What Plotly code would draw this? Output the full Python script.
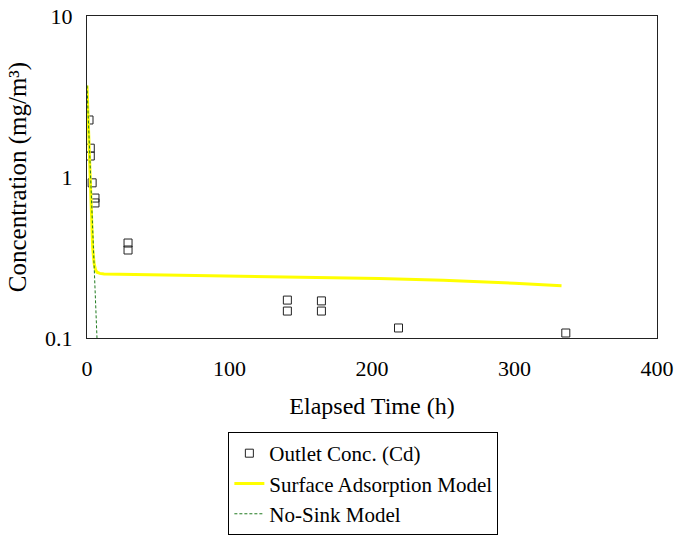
import plotly.graph_objects as go

# Observed data: Outlet Conc. (Cd)
obs_t = [1.4, 2.3, 2.3, 3.6, 5.6, 5.6, 28.8, 28.8, 140.6, 140.6, 164.5, 164.5, 218.6, 336.0]
obs_c = [2.26, 1.51, 1.35, 0.92, 0.74, 0.69, 0.389, 0.352, 0.172, 0.147, 0.170, 0.147, 0.1154, 0.1074]

# Surface adsorption model
sam_t = [0, 1, 2, 3, 3.5, 4, 5, 6, 7, 9, 12, 50, 100, 150, 205, 250, 300, 333]
sam_c = [3.7, 2.1, 1.15, 0.62, 0.45, 0.36, 0.29, 0.265, 0.256, 0.252, 0.25, 0.246, 0.242, 0.238, 0.234, 0.228, 0.219, 0.211]

# No-sink model
ns_t = [0, 1, 2, 3, 4, 5, 6, 7, 8]
ns_c = [3.7, 2.2, 1.32, 0.78, 0.47, 0.28, 0.166, 0.1, 0.06]

x_ticks = [0, 100, 200, 300, 400]
y_ticks = [0.1, 1, 10]
y_tick_labels = ["0.1", "1", "10"]

fig = go.Figure()
fig.add_trace(go.Scatter(
    x=obs_t, y=obs_c, mode="markers", name="Outlet Conc. (Cd)",
    marker=dict(symbol="square-open", size=8, color="#222222", line=dict(width=1, color="#222222")),
))
fig.add_trace(go.Scatter(
    x=sam_t, y=sam_c, mode="lines", name="Surface Adsorption Model",
    line=dict(color="#ffff00", width=3),
))
fig.add_trace(go.Scatter(
    x=ns_t, y=ns_c, mode="lines", name="No-Sink Model",
    line=dict(color="#1f7a1f", width=1, dash="3px,2px"),
))

font_family = "Liberation Serif, Times New Roman, serif"
fig.update_layout(
    width=676, height=536,
    margin=dict(l=87, r=19, t=16, b=198, autoexpand=False),
    paper_bgcolor="white", plot_bgcolor="white",
    font=dict(family=font_family, size=22, color="black"),
    showlegend=True,
    legend=dict(
        x=0.248, y=-0.292, xanchor="left", yanchor="top",
        bordercolor="black", borderwidth=1, bgcolor="white",
        font=dict(family=font_family, size=21, color="black"),
        itemwidth=30, tracegroupgap=0,
    ),
    xaxis=dict(
        range=[0, 400], tickvals=x_ticks, showgrid=False, zeroline=False,
        showline=True, linecolor="#222222", linewidth=1, mirror=True, ticks="",
        automargin=False, ticklabelstandoff=11,
        title=dict(text="Elapsed Time (h)", font=dict(size=24), standoff=16),
        tickfont=dict(size=22),
    ),
    yaxis=dict(
        type="log", range=[-1, 1], tickvals=y_ticks, ticktext=y_tick_labels,
        showgrid=False, zeroline=False,
        showline=True, linecolor="#222222", linewidth=1, mirror=True, ticks="",
        automargin=False, ticklabelstandoff=9,
        title=dict(text="Concentration (mg/m³)", font=dict(size=25), standoff=11),
        tickfont=dict(size=22),
    ),
)

# remove the browser's default body margin so the figure sits at the page corner
fig.write_html(
    "out.html",
    config={"displayModeBar": False},
    post_script="document.body.style.margin='0px';",
)
